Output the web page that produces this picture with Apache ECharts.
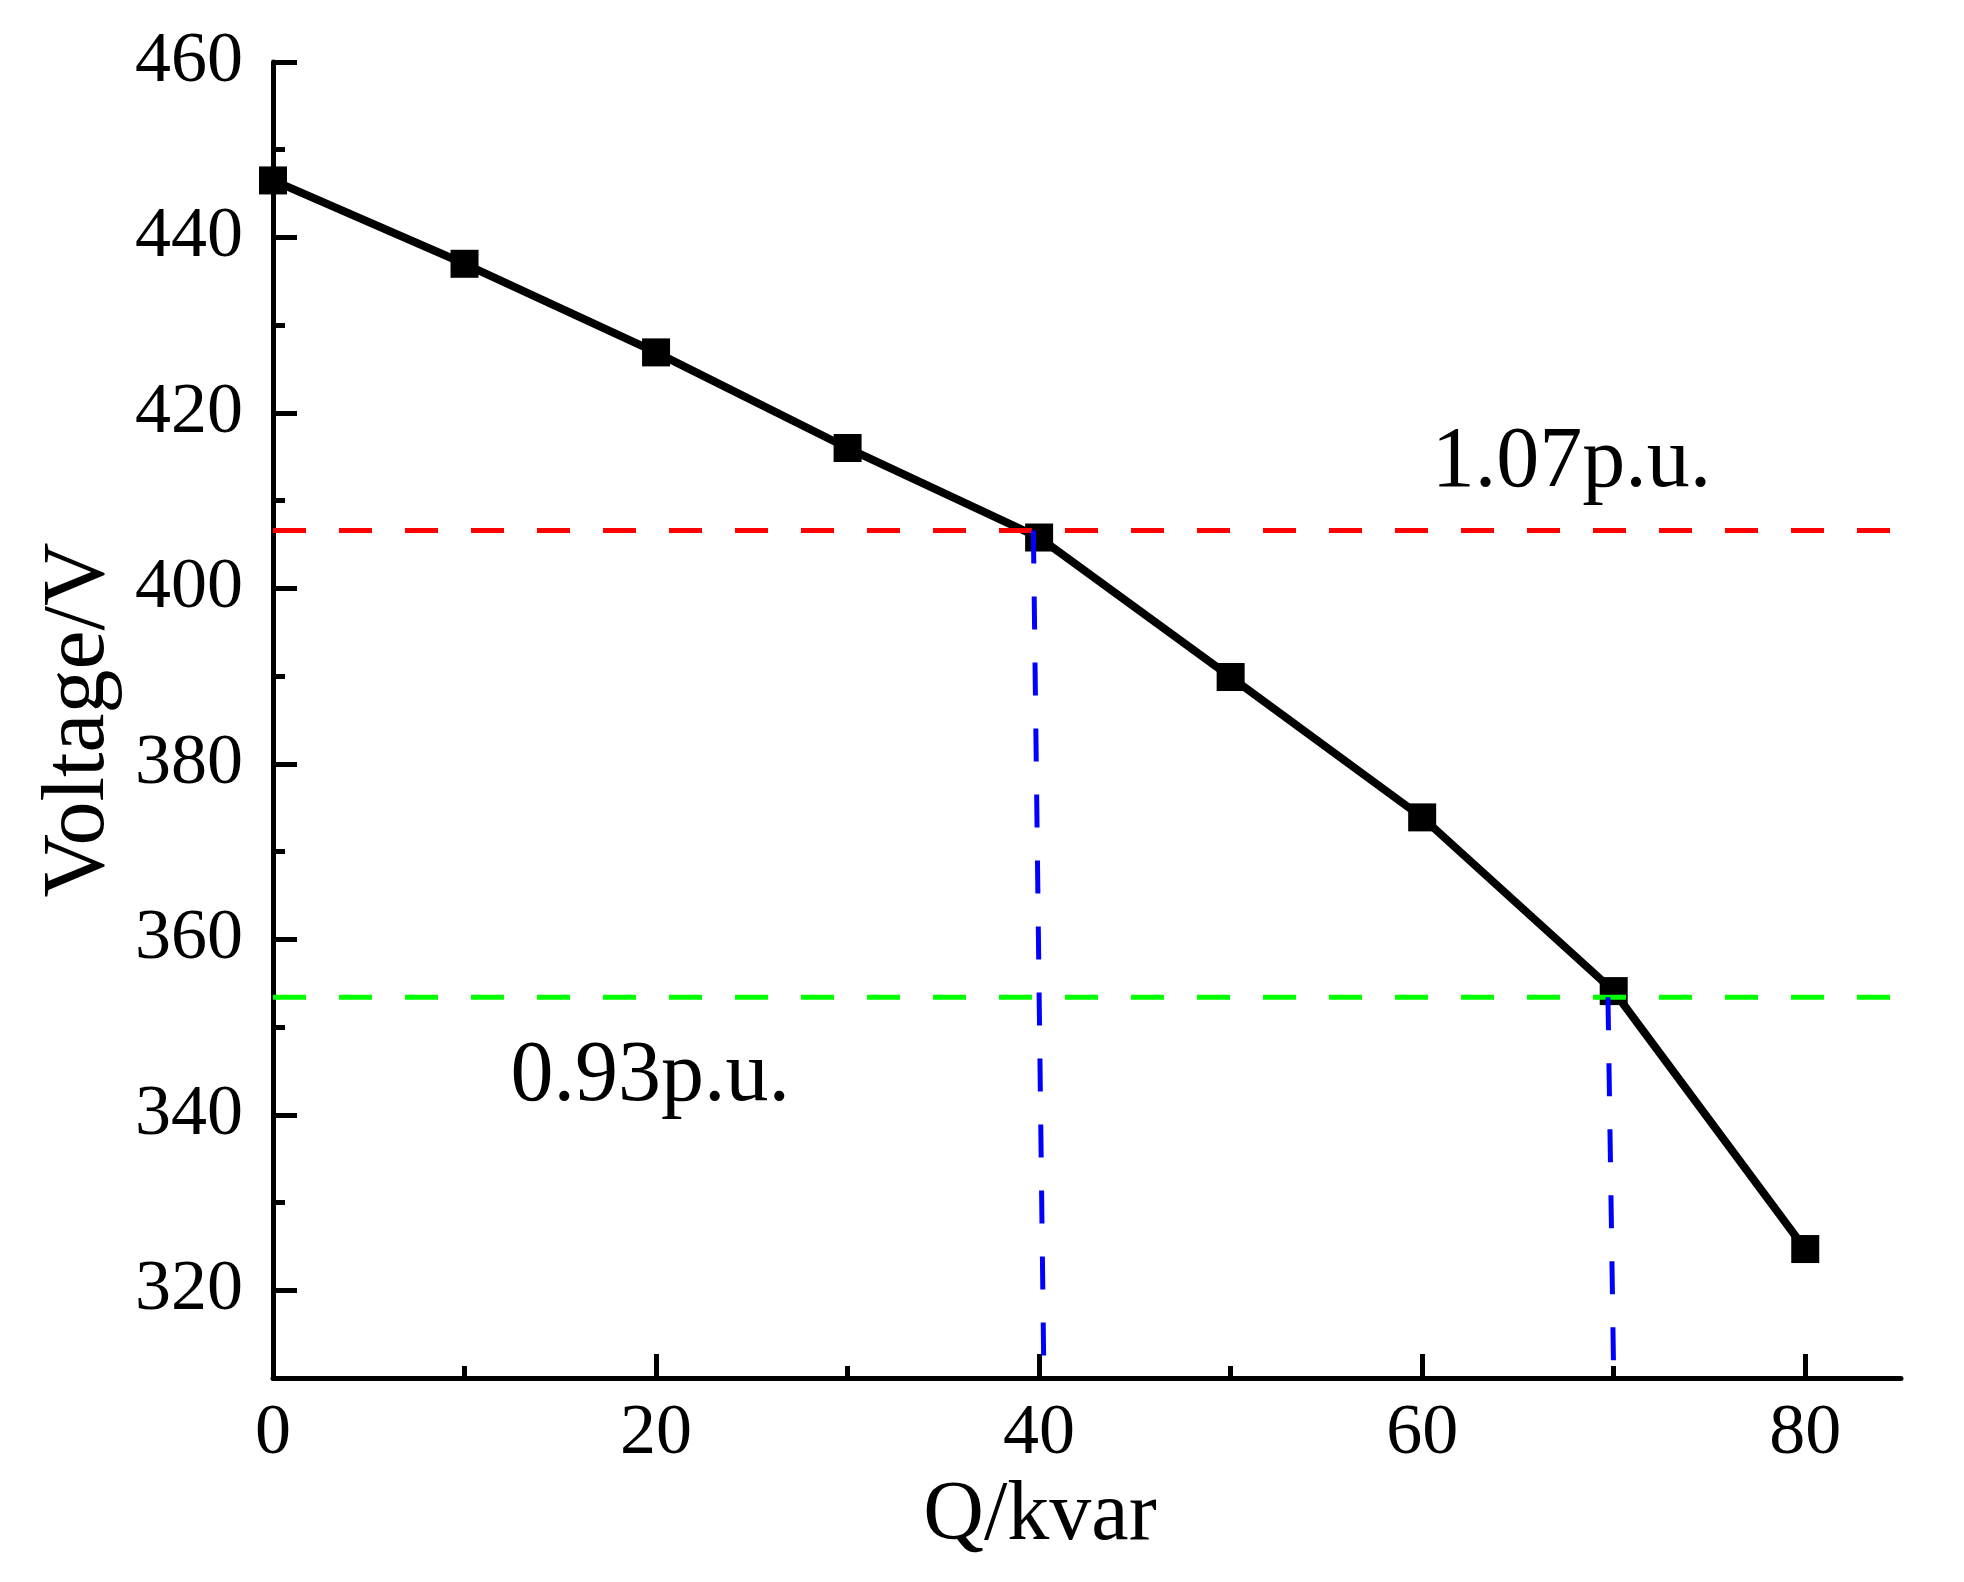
<!DOCTYPE html>
<html>
<head>
<meta charset="utf-8">
<script src="https://cdn.jsdelivr.net/npm/echarts@6/dist/echarts.min.js"></script>
<style>
  html, body { margin: 0; padding: 0; background: #fff; }
  #voltageChart { width: 1964px; height: 1582px; }
</style>
</head>
<body>
<div id="voltageChart"></div>
<script>
// Q/kvar 与电压数据
const qValues = [0, 10, 20, 30, 40, 50, 60, 70, 80];
const voltValues = [446.5, 437.0, 426.9, 416.0, 405.8, 389.9, 373.9, 354.1, 324.7];

// 1.07p.u. / 0.93p.u. 参考线 (380V 基准)
const upperLimit = 406.6;
const lowerLimit = 353.4;
// 蓝色竖线 [顶点, 底点]
const crossUpper = [[39.7, 406.6], [40.25, 310]];
const crossLower = [[69.7, 353.4], [70.0, 310]];

// 标注文字
const noteText = ['1.07p.u.', '0.93p.u.'];
const noteX = [67.8, 19.7];
const noteY = [414.3, 344.3];

// 刻度
const xMajorTicks = [0, 20, 40, 60, 80];
const xMinorTicks = [10, 30, 50, 70];
const yMajorTicks = [320, 340, 360, 380, 400, 420, 440, 460];
const yMinorTicks = [330, 350, 370, 390, 410, 430, 450];

const xMin = 0, xMax = 85;
const yMin = 310, yMax = 460;

const fontFamily = '"Liberation Serif", "Times New Roman", serif';

const chart = echarts.init(document.getElementById('voltageChart'));

const baseAxisLine = { show: true, onZero: false, lineStyle: { color: '#000', width: 5 } };

const option = {
  backgroundColor: '#fff',
  animation: false,
  grid: { left: 273, right: 63, top: 62, bottom: 204 },
  xAxis: [
    {
      type: 'value', min: xMin, max: xMax,
      name: 'Q/kvar', nameLocation: 'middle', nameGap: 92,
      nameTextStyle: { fontFamily: fontFamily, fontSize: 84, color: '#000', padding: [0, 94, 0, 0] },
      axisLine: baseAxisLine,
      axisTick: { show: true, inside: true, length: 24, lineStyle: { width: 5, color: '#000' }, customValues: xMajorTicks },
      axisLabel: { show: true, customValues: xMajorTicks, margin: 20, fontFamily: fontFamily, fontSize: 72, color: '#000' },
      splitLine: { show: false }
    },
    {
      type: 'value', min: xMin, max: xMax, position: 'bottom',
      axisLine: { show: false },
      axisTick: { show: true, inside: true, length: 12, lineStyle: { width: 5, color: '#000' }, customValues: xMinorTicks },
      axisLabel: { show: false },
      splitLine: { show: false }
    }
  ],
  yAxis: [
    {
      type: 'value', min: yMin, max: yMax,
      name: 'Voltage/V', nameLocation: 'middle', nameGap: 142,
      nameTextStyle: { fontFamily: fontFamily, fontSize: 88, color: '#000' },
      axisLine: baseAxisLine,
      axisTick: { show: true, inside: true, length: 24, lineStyle: { width: 5, color: '#000' }, customValues: yMajorTicks },
      axisLabel: { show: true, customValues: yMajorTicks, margin: 30, fontFamily: fontFamily, fontSize: 72, color: '#000' },
      splitLine: { show: false }
    },
    {
      type: 'value', min: yMin, max: yMax, position: 'left',
      axisLine: { show: false },
      axisTick: { show: true, inside: true, length: 12, lineStyle: { width: 5, color: '#000' }, customValues: yMinorTicks },
      axisLabel: { show: false },
      splitLine: { show: false }
    }
  ],
  series: [
    {
      type: 'line',
      data: qValues.map((q, i) => [q, voltValues[i]]),
      symbol: 'rect',
      symbolSize: 28,
      lineStyle: { color: '#000', width: 8 },
      itemStyle: { color: '#000' },
      z: 2
    },
    {
      type: 'line',
      data: [[xMin, upperLimit], [xMax, upperLimit]],
      symbol: 'none',
      lineStyle: { color: '#ff0000', width: 5, type: [33, 33] },
      z: 3
    },
    {
      type: 'line',
      data: [[xMin, lowerLimit], [xMax, lowerLimit]],
      symbol: 'none',
      lineStyle: { color: '#00ff00', width: 5, type: [33, 33] },
      z: 3
    },
    {
      type: 'line',
      data: crossUpper,
      symbol: 'none',
      lineStyle: { color: '#0000ff', width: 5, type: [33, 33] },
      z: 3
    },
    {
      type: 'line',
      data: crossLower,
      symbol: 'none',
      lineStyle: { color: '#0000ff', width: 5, type: [33, 33] },
      z: 3
    },
    {
      type: 'scatter',
      symbolSize: 1,
      itemStyle: { color: '#000', opacity: 0 },
      data: noteText.map((t, i) => ({ value: [noteX[i], noteY[i]], name: t })),
      label: {
        show: true,
        position: 'inside',
        formatter: p => p.name,
        fontFamily: fontFamily,
        fontSize: 86,
        color: '#000',
        opacity: 1,
        textBorderWidth: 0
      },
      z: 4
    }
  ]
};

chart.setOption(option);
</script>
</body>
</html>
